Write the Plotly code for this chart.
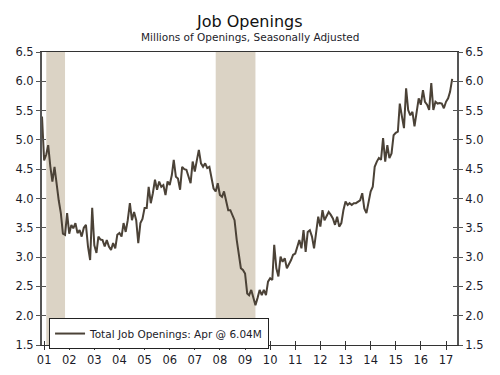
import pandas as pd
import plotly.graph_objects as go

# ---- data (millions of job openings, monthly, Dec 2000 - Apr 2017) ----
openings_2000 = [5.40]
openings_2001 = [4.65, 4.75, 4.91, 4.55, 4.29, 4.54, 4.23, 3.97, 3.75, 3.40, 3.38, 3.75]
openings_2002 = [3.40, 3.55, 3.49, 3.58, 3.41, 3.46, 3.35, 3.50, 3.55, 3.18, 2.95, 3.84]
openings_2003 = [3.20, 3.07, 3.35, 3.30, 3.29, 3.18, 3.29, 3.18, 3.12, 3.24, 3.15, 3.38]
openings_2004 = [3.41, 3.35, 3.58, 3.43, 3.63, 3.92, 3.63, 3.77, 3.63, 3.24, 3.58, 3.65]
openings_2005 = [3.84, 3.84, 4.20, 3.92, 4.09, 4.32, 4.15, 4.29, 4.20, 4.23, 4.06, 4.29]
openings_2006 = [4.23, 4.40, 4.66, 4.37, 4.34, 4.15, 4.54, 4.50, 4.49, 4.37, 4.26, 4.63]
openings_2007 = [4.46, 4.66, 4.83, 4.60, 4.54, 4.60, 4.52, 4.54, 4.32, 4.17, 4.12, 4.26]
openings_2008 = [4.06, 4.03, 4.12, 3.95, 3.80, 3.80, 3.70, 3.63, 3.30, 3.09, 2.81, 2.78]
openings_2009 = [2.72, 2.38, 2.35, 2.44, 2.32, 2.18, 2.30, 2.44, 2.35, 2.44, 2.35, 2.58]
openings_2010 = [2.64, 2.61, 3.21, 2.81, 2.67, 3.01, 2.92, 2.98, 2.81, 2.87, 2.95, 3.04]
openings_2011 = [3.06, 3.18, 3.29, 3.15, 3.46, 3.09, 3.43, 3.46, 3.35, 3.15, 3.46, 3.69]
openings_2012 = [3.52, 3.80, 3.63, 3.69, 3.77, 3.72, 3.66, 3.55, 3.69, 3.52, 3.58, 3.80]
openings_2013 = [3.95, 3.89, 3.92, 3.89, 3.92, 3.92, 3.95, 3.97, 4.09, 3.83, 3.75, 3.97]
openings_2014 = [4.12, 4.20, 4.54, 4.63, 4.69, 4.66, 5.03, 4.63, 4.91, 4.69, 4.77, 5.08]
openings_2015 = [5.12, 5.14, 5.62, 5.40, 5.20, 5.88, 5.51, 5.42, 5.48, 5.23, 5.45, 5.71]
openings_2016 = [5.60, 5.85, 5.65, 5.60, 5.51, 5.97, 5.51, 5.65, 5.62, 5.63, 5.62, 5.54]
openings_2017 = [5.65, 5.71, 5.82, 6.04]

series_start = "2000-12-01"
tick_labels = ["01", "02", "03", "04", "05", "06", "07", "08", "09",
               "10", "11", "12", "13", "14", "15", "16", "17"]
tick_dates = ["20%s-01-01" % t for t in tick_labels]
recession_starts = ["2001-02-01", "2007-11-01"]
recession_ends = ["2001-11-01", "2009-06-01"]
legend_label = "Total Job Openings: Apr @ 6.04M"

values = (openings_2000 + openings_2001 + openings_2002 + openings_2003 + openings_2004
          + openings_2005 + openings_2006 + openings_2007 + openings_2008 + openings_2009
          + openings_2010 + openings_2011 + openings_2012 + openings_2013 + openings_2014
          + openings_2015 + openings_2016 + openings_2017)
dates = pd.date_range(series_start, periods=len(values), freq="MS")

FONT = "DejaVu Sans"
LINE = "#4B4237"
AXIS = "#555555"
TXT = "#1c1c2a"
XR = ["2000-12-01", "2017-06-10"]
YR = [1.5, 6.5]

fig = go.Figure()
fig.add_trace(go.Scatter(x=dates, y=values, mode="lines", name=legend_label,
                         line=dict(color=LINE, width=2), showlegend=True))
# helper empty traces to anchor overlay axes (for crossing tick marks)
fig.add_trace(go.Scatter(x=[None], y=[None], xaxis="x", yaxis="y2", showlegend=False, hoverinfo="skip"))
fig.add_trace(go.Scatter(x=[None], y=[None], xaxis="x2", yaxis="y3", showlegend=False, hoverinfo="skip"))
fig.add_trace(go.Scatter(x=[None], y=[None], xaxis="x2", yaxis="y4", showlegend=False, hoverinfo="skip"))

for s, e in zip(recession_starts, recession_ends):
    fig.add_shape(type="rect", xref="x", yref="paper", x0=s, x1=e, y0=0, y1=1,
                  fillcolor="#DBD3C5", line=dict(width=0), layer="below")

tickfont = dict(family=FONT, size=11.5, color=TXT)
fig.update_layout(
    width=492, height=367,
    margin=dict(l=34, r=43, t=44, b=30),
    paper_bgcolor="white", plot_bgcolor="white",
    font=dict(family=FONT, color=TXT),
    xaxis=dict(type="date", range=XR, tickvals=tick_dates, ticktext=tick_labels,
               ticks="outside", ticklen=4, tickcolor="#333", tickwidth=1,
               showline=True, linecolor="#333", linewidth=1, mirror=True,
               showgrid=False, zeroline=False, tickfont=tickfont, automargin=False),
    xaxis2=dict(type="date", range=XR, tickvals=tick_dates, overlaying="x", anchor="y",
                side="bottom", ticks="inside", ticklen=4, tickcolor="#333", tickwidth=1,
                showticklabels=False, showline=False, showgrid=False, zeroline=False,
                automargin=False),
    yaxis=dict(range=YR, dtick=0.5, tick0=1.5, tickformat=".1f", ticks="outside",
               ticklen=4, tickcolor=AXIS, showline=True, linecolor=AXIS, linewidth=2,
               showgrid=False, zeroline=False, tickfont=tickfont, automargin=False),
    yaxis2=dict(range=YR, dtick=0.5, tick0=1.5, tickformat=".1f", ticks="outside",
                ticklen=4, tickcolor=AXIS, showline=True, linecolor=AXIS, linewidth=2,
                overlaying="y", side="right", showgrid=False, zeroline=False,
                tickfont=tickfont, automargin=False),
    yaxis3=dict(range=YR, dtick=0.5, tick0=1.5, ticks="inside", ticklen=4, tickcolor=AXIS,
                overlaying="y", side="left", anchor="x2", showticklabels=False,
                showline=False, showgrid=False, zeroline=False, automargin=False),
    yaxis4=dict(range=YR, dtick=0.5, tick0=1.5, ticks="inside", ticklen=4, tickcolor=AXIS,
                overlaying="y", side="right", anchor="x2", showticklabels=False,
                showline=False, showgrid=False, zeroline=False, automargin=False),
    showlegend=True,
    legend=dict(x=0.017, y=0.092, xanchor="left", yanchor="top", bgcolor="white",
                bordercolor="#222", borderwidth=1, itemwidth=30,
                font=dict(family=FONT, size=10.5, color=TXT), tracegroupgap=0),
    annotations=[
        dict(text="Job Openings", xref="paper", yref="paper", x=0.5, y=1.0,
             yshift=31, showarrow=False, xanchor="center", yanchor="middle",
             font=dict(family=FONT, size=16, color="#111")),
        dict(text="Millions of Openings, Seasonally Adjusted", xref="paper", yref="paper",
             x=0.5, y=1.0, yshift=15, showarrow=False, xanchor="center", yanchor="middle",
             font=dict(family=FONT, size=10.5, color=TXT)),
    ],
)

fig.write_html("out.html")
